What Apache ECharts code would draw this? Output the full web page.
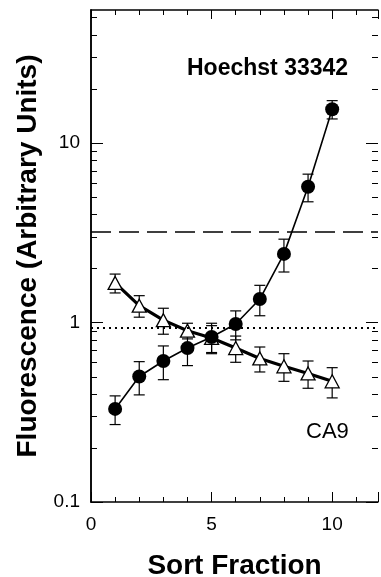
<!DOCTYPE html>
<html><head><meta charset="utf-8">
<script src="https://cdn.jsdelivr.net/npm/echarts@6/dist/echarts.min.js"></script>
<style>html,body{margin:0;padding:0;background:#fff}#c{width:381px;height:577px}</style>
</head><body><div id="c"></div>
<script>
// ---- data ----
const fractions = [1, 2, 3, 4, 5, 6, 7, 8, 9, 10];
const hoechst    = [0.33, 0.50, 0.61, 0.72, 0.83, 0.98, 1.35, 2.41, 5.7, 15.4];
const hoechstErr = [0.06, 0.105, 0.13, 0.145, 0.16, 0.18, 0.26, 0.5, 1.0, 1.8];
const ca9        = [1.66, 1.24, 1.03, 0.90, 0.82, 0.72, 0.63, 0.57, 0.52, 0.47];
const ca9Err     = [0.2, 0.17, 0.17, 0.09, 0.14, 0.12, 0.1, 0.1, 0.09, 0.09];
const dashedLevel = 3.22;
const dottedLevel = 0.93;
const yMajorTickValues = [0.1, 1, 10];
const yMinorTickValues = [0.2,0.3,0.4,0.5,0.6,0.7,0.8,0.9,2,3,4,5,6,7,8,9,20,30,40,50];
const yTickLabels = {0.1: '0.1', 1: '1', 10: '10'};
const xLabel = 'Sort Fraction';
const yLabel = 'Fluorescence (Arbitrary Units)';
const labelHoechst = 'Hoechst 33342';
const labelCA9 = 'CA9';

const FONT = '"Liberation Sans", Arial, sans-serif';
const xMin = 0, xMax = 11.9, yMin = 0.1, yMax = 55;

function errData(xs, ys, es) { return xs.map((x, i) => [x, ys[i], es[i]]); }

function errRender(params, api) {
  const x = api.value(0), y = api.value(1), e = api.value(2);
  const top = api.coord([x, y + e]);
  const bot = api.coord([x, y - e]);
  const hw = 5.5;
  const st = {stroke: '#000', lineWidth: 1.2};
  return {type: 'group', children: [
    {type: 'line', shape: {x1: top[0], y1: top[1], x2: bot[0], y2: bot[1]}, style: st},
    {type: 'line', shape: {x1: top[0]-hw, y1: top[1], x2: top[0]+hw, y2: top[1]}, style: st},
    {type: 'line', shape: {x1: bot[0]-hw, y1: bot[1], x2: bot[0]+hw, y2: bot[1]}, style: st}
  ]};
}

function yTickRender(params, api) {
  const cs = params.coordSys;
  const p = api.coord([xMin, api.value(0)]);
  const len = api.value(1);
  const y = Math.round(p[1]) + 0.5;
  const st = {stroke: '#000', lineWidth: 1};
  return {type: 'group', children: [
    {type: 'line', shape: {x1: cs.x, y1: y, x2: cs.x + len, y2: y}, style: st},
    {type: 'line', shape: {x1: cs.x + cs.width, y1: y, x2: cs.x + cs.width - len, y2: y}, style: st}
  ]};
}

const yTickData = yMajorTickValues.map(v => [v, 12]).concat(yMinorTickValues.map(v => [v, 6]));

const axisLineStyle = {color: '#000', width: 1.5};
const chart = echarts.init(document.getElementById('c'), null, {renderer: 'canvas'});
chart.setOption({
  animation: false,
  backgroundColor: '#fff',
  grid: {left: 91, top: 10, right: 3, bottom: 75, containLabel: false, outerBoundsMode: 'none'},
  xAxis: [{
    type: 'value', min: xMin, max: xMax, interval: 5, position: 'bottom',
    name: xLabel, nameLocation: 'middle', nameGap: 50,
    nameTextStyle: {fontFamily: FONT, fontWeight: 'bold', fontSize: 28, color: '#000'},
    axisLine: {show: true, lineStyle: axisLineStyle},
    axisTick: {show: true, inside: true, length: 10, lineStyle: {color: '#000', width: 1}},
    minorTick: {show: true, splitNumber: 5, length: 5, lineStyle: {color: '#000', width: 1}},
    axisLabel: {fontFamily: FONT, fontSize: 19, color: '#000', margin: 13,
      formatter: v => (v > 10.5 ? '' : String(v))},
    splitLine: {show: false}, minorSplitLine: {show: false}
  }, {
    type: 'value', min: xMin, max: xMax, interval: 5, position: 'top',
    axisLine: {show: true, lineStyle: axisLineStyle},
    axisTick: {show: true, inside: true, length: 9, lineStyle: {color: '#000', width: 1}},
    minorTick: {show: true, splitNumber: 5, length: 5, lineStyle: {color: '#000', width: 1}},
    axisLabel: {show: false}, splitLine: {show: false}
  }],
  yAxis: [{
    type: 'log', logBase: 10, min: yMin, max: yMax, position: 'left',
    name: yLabel, nameLocation: 'middle', nameGap: 25,
    nameTextStyle: {fontFamily: FONT, fontWeight: 'bold', fontSize: 28, color: '#000'},
    axisLine: {show: true, lineStyle: axisLineStyle},
    axisTick: {show: false},
    minorTick: {show: false},
    axisLabel: {fontFamily: FONT, fontSize: 19, color: '#000', margin: 11,
      formatter: v => { const k = Object.keys(yTickLabels).find(t => Math.abs(+t - v) / v < 1e-6); return k ? yTickLabels[k] : ''; }},
    splitLine: {show: false}
  }, {
    type: 'log', logBase: 10, min: yMin, max: yMax, position: 'right',
    axisLine: {show: true, lineStyle: axisLineStyle},
    axisTick: {show: false},
    axisLabel: {show: false}, splitLine: {show: false}
  }],
  graphic: [
    {type: 'text', left: 187, top: 57, style: {text: labelHoechst, font: 'bold 23px ' + FONT, fill: '#000'}},
    {type: 'text', left: 306, top: 421, style: {text: labelCA9, font: '22px ' + FONT, fill: '#000'}}
  ],
  series: [
    {
      type: 'custom', name: 'yTicks', renderItem: yTickRender,
      data: yTickData, encode: {y: 0}, z: 1, silent: true, clip: false
    },
    {
      type: 'line', name: 'refs', data: [], z: 1,
      markLine: {
        silent: true, symbol: 'none', label: {show: false},
        data: [
          {yAxis: dashedLevel, lineStyle: {type: [20, 8], color: '#000', width: 1.6}},
          {yAxis: dottedLevel, lineStyle: {type: [2, 4], color: '#000', width: 2}}
        ]
      }
    },
    {type: 'custom', name: 'hoechstErr', renderItem: errRender, data: errData(fractions, hoechst, hoechstErr), z: 2},
    {type: 'custom', name: 'ca9Err', renderItem: errRender, data: errData(fractions, ca9, ca9Err), z: 2},
    {
      type: 'line', name: 'CA9', data: fractions.map((x, i) => [x, ca9[i]]), z: 3,
      lineStyle: {color: '#000', width: 3.2}, symbol: 'triangle', symbolSize: [14, 13],
      itemStyle: {color: '#fff', borderColor: '#000', borderWidth: 1.3}, showAllSymbol: true
    },
    {
      type: 'line', name: 'Hoechst', data: fractions.map((x, i) => [x, hoechst[i]]), z: 4,
      lineStyle: {color: '#000', width: 1.6}, symbol: 'circle', symbolSize: 14,
      itemStyle: {color: '#000', borderColor: '#000', borderWidth: 0}, showAllSymbol: true
    }
  ]
});
</script>
</body></html>
